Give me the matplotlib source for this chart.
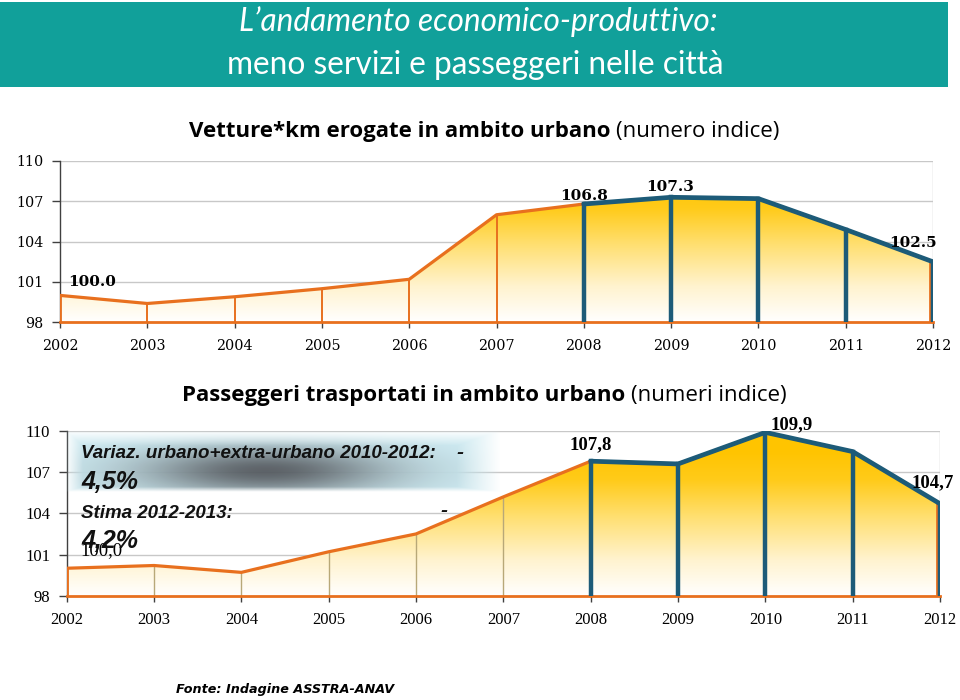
import numpy as np
import matplotlib
matplotlib.use("Agg")
import matplotlib.pyplot as plt
from matplotlib.colors import LinearSegmentedColormap
from matplotlib.patches import Rectangle, Polygon

# ---------------- data ----------------
years = [2002, 2003, 2004, 2005, 2006, 2007, 2008, 2009, 2010, 2011, 2012]
vetture = [100.0, 99.4, 99.9, 100.5, 101.2, 106.0, 106.8, 107.3, 107.2, 104.9, 102.5]
passeggeri = [100.0, 100.2, 99.7, 101.2, 102.5, 105.2, 107.8, 107.6, 109.9, 108.5, 104.7]
yticks = [98, 101, 104, 107, 110]
highlight_from = 2008

title1 = "L\u2019andamento economico-produttivo:"
title2 = "meno servizi e passeggeri nelle citt\u00e0"
sub1_bold, sub1_norm = "Vetture*km erogate in ambito urbano", "(numero indice)"
sub2_bold, sub2_norm = "Passeggeri trasportati in ambito urbano", "(numeri indice)"
labels_top = {2002: "100.0", 2008: "106.8", 2009: "107.3", 2012: "102.5"}
labels_bot = {2002: "100,0", 2008: "107,8", 2010: "109,9", 2012: "104,7"}
note1, note1b = "Variaz. urbano+extra-urbano 2010-2012:", "4,5%"
note2, note2b = "Stima 2012-2013:", "4,2%"
source = "Fonte: Indagine ASSTRA-ANAV"

ORANGE = "#E8701E"
TEAL = "#1D5B78"
HEAD = "#11A09A"

W, H = 960, 700
fig = plt.figure(figsize=(W / 100, H / 100), dpi=100)

def fx(px):
    return px / W

def fy(py):
    return 1 - py / H

# header band
fig.patches.append(Rectangle((0, fy(87)), fx(948), (87 - 2) / H, transform=fig.transFigure,
                             facecolor=HEAD, edgecolor="none", zorder=0))
fig.text(fx(478), fy(22), title1, ha="center", va="center", color="white",
         fontsize=22.8, fontstyle="italic", family="Lato")
fig.text(fx(475), fy(65), title2, ha="center", va="center", color="white",
         fontsize=22.8, family="Lato")

grad_cmap = LinearSegmentedColormap.from_list(
    "g", [(0, "#FFFFFF"), (0.25, "#FFF3CF"), (0.55, "#FFDF70"), (0.8, "#FFCB1A"), (1.0, "#FFC400")])


def mixed_title(cx, cy, bold, norm, size):
    r = fig.canvas.get_renderer()
    t1 = fig.text(0, fy(cy), bold, ha="left", va="center", fontsize=size,
                  fontweight="bold", family="Open Sans", color="black")
    t2 = fig.text(0, fy(cy), norm, ha="left", va="center", fontsize=size,
                  family="Open Sans", color="black")
    w1 = t1.get_window_extent(r).width
    w2 = t2.get_window_extent(r).width
    gap = 6
    total = w1 + gap + w2
    x0 = cx - total / 2
    t1.set_x(fx(x0))
    t2.set_x(fx(x0 + w1 + gap))


def draw_panel(rect_px, values, tickfont, tsize, vline_color, vline_w):
    l, t, r, b = rect_px
    ax = fig.add_axes([fx(l), fy(b), fx(r - l), (b - t) / H])
    grad = np.linspace(0, 1, 256).reshape(-1, 1)
    im = ax.imshow(grad, extent=[years[0], years[-1], 98, 108.5], origin="lower",
                   cmap=grad_cmap, aspect="auto", zorder=1)
    im2 = ax.imshow(np.ones((2, 2)), extent=[years[0], years[-1], 108.5, 110.2], origin="lower",
                    cmap=grad_cmap, vmin=0, vmax=1, aspect="auto", zorder=1)
    ax.set_xlim(years[0], years[-1])
    ax.set_ylim(98, 110)
    verts = [(years[0], 98)] + list(zip(years, values)) + [(years[-1], 98)]
    poly = Polygon(verts, closed=True, facecolor="none", edgecolor="none")
    ax.add_patch(poly)
    im.set_clip_path(poly)
    im2.set_clip_path(poly)
    for yv in yticks[1:]:
        ax.axhline(yv, color="#C8C8C8", lw=1.0, zorder=0.5)
    ax.axvline(years[-1], ymin=0, ymax=1, color="#C8C8C8", lw=1.0, zorder=0.5)
    for x, v in zip(years, values):
        if x < highlight_from:
            ax.plot([x, x], [98, v], color=vline_color, lw=vline_w, zorder=2)
    ax.plot(years, values, color=ORANGE, lw=2.3, zorder=3, solid_capstyle="butt")
    ax.plot([years[0], years[-1]], [98, 98], color=ORANGE, lw=2.0, zorder=3, clip_on=False)
    ax.plot([years[-1] - 0.03, years[-1] - 0.03], [98, values[-1]], color=ORANGE, lw=2.0, zorder=3)
    ax.plot([years[0], years[0]], [98, values[0]], color=ORANGE, lw=2.0, zorder=3)
    hx = [x for x in years if x >= highlight_from]
    hv = [v for x, v in zip(years, values) if x >= highlight_from]
    ax.plot(hx, hv, color=TEAL, lw=3.4, zorder=4, solid_capstyle="round")
    for x, v in zip(hx, hv):
        ax.plot([x, x], [98, v], color=TEAL, lw=3.2, zorder=4)
    for s in ["top", "right", "bottom"]:
        ax.spines[s].set_visible(False)
    ax.spines["left"].set_color("#404040")
    ax.spines["left"].set_linewidth(1.0)
    ax.set_yticks(yticks)
    ax.set_xticks(years)
    ax.set_xticklabels([str(y) for y in years])
    ax.tick_params(axis="y", length=6, width=1, color="#404040", pad=6)
    ax.tick_params(axis="x", length=4, width=1, color="#404040", pad=8)
    for lab in ax.get_xticklabels() + ax.get_yticklabels():
        lab.set_family(tickfont)
        lab.set_fontsize(tsize)
    return ax


# top panel
ax1 = draw_panel((60, 161, 933, 322.3), vetture, "DejaVu Serif", 10.3, ORANGE, 1.4)
mixed_title(484, 131, sub1_bold, sub1_norm, 16)
top_pos = {2002: (2002.37, 101.0), 2008: (2008.0, 107.4), 2009: (2008.99, 108.1), 2012: (2011.77, 103.9)}
for k, txt in labels_top.items():
    x, y = top_pos[k]
    ax1.text(x, y, txt, ha="center", va="center", fontsize=11, fontweight="bold",
             family="DejaVu Serif", zorder=6, clip_on=False)

# bottom panel
ax2 = draw_panel((66.7, 431, 940, 595.7), passeggeri, "Liberation Serif", 12, "#B8A878", 1.0)
mixed_title(484, 396, sub2_bold, sub2_norm, 16)
bot_pos = {2002: (2002.4, 101.3), 2008: (2008.0, 109.0), 2010: (2010.3, 110.45), 2012: (2011.92, 106.2)}
for k, txt in labels_bot.items():
    x, y = bot_pos[k]
    ax2.text(x, y, txt, ha="center", va="center", fontsize=13.5,
             fontweight="normal" if k == 2002 else "bold",
             family="Liberation Serif", zorder=6, clip_on=False)

# shadow box behind the note
bx0, by0, bx1, by1 = 65, 430, 500, 492
ny, nx = 124, 435
yy, xx = np.mgrid[0:ny, 0:nx]
u = xx / (nx - 1)
v = yy / (ny - 1)
d2 = ((u - 0.46) / 0.34) ** 2 + ((v - 0.66) / 0.46) ** 2
dark = 0.8 * np.exp(-d2 * 1.4)
light = np.array([0.80, 0.92, 0.95])
darkc = np.array([0.22, 0.22, 0.24])
rgb = light[None, None, :] * (1 - dark[..., None]) + darkc[None, None, :] * dark[..., None]
edge = np.minimum.reduce([u / 0.04, (1 - u) / 0.10, v / 0.25, (1 - v) / 0.08])
alpha = np.clip(edge, 0, 1) * 0.95
img = np.dstack([rgb, alpha])
axb = fig.add_axes([fx(bx0), fy(by1), fx(bx1 - bx0), (by1 - by0) / H], zorder=5)
axb.imshow(img, aspect="auto", interpolation="bilinear")
axb.axis("off")

# note text (overlay)
axt = fig.add_axes([0, 0, 1, 1], zorder=10)
axt.set_xlim(0, W)
axt.set_ylim(H, 0)
axt.axis("off")
nf = dict(family="Liberation Sans", fontweight="bold", fontstyle="italic", color="#111111")
axt.text(81, 453, note1, ha="left", va="center", fontsize=13.5, **nf)
axt.text(460, 452, "-", ha="center", va="center", fontsize=15, **nf)
axt.text(81, 482, note1b, ha="left", va="center", fontsize=18, **nf)
axt.text(81, 513, note2, ha="left", va="center", fontsize=13.5, **nf)
axt.text(444, 511, "-", ha="center", va="center", fontsize=15, **nf)
axt.text(81, 541, note2b, ha="left", va="center", fontsize=18, **nf)
axt.text(176, 690, source, ha="left", va="center", fontsize=9.2, family="DejaVu Sans",
         fontweight="bold", fontstyle="italic", color="black")

fig.savefig("out.png", dpi=100)
